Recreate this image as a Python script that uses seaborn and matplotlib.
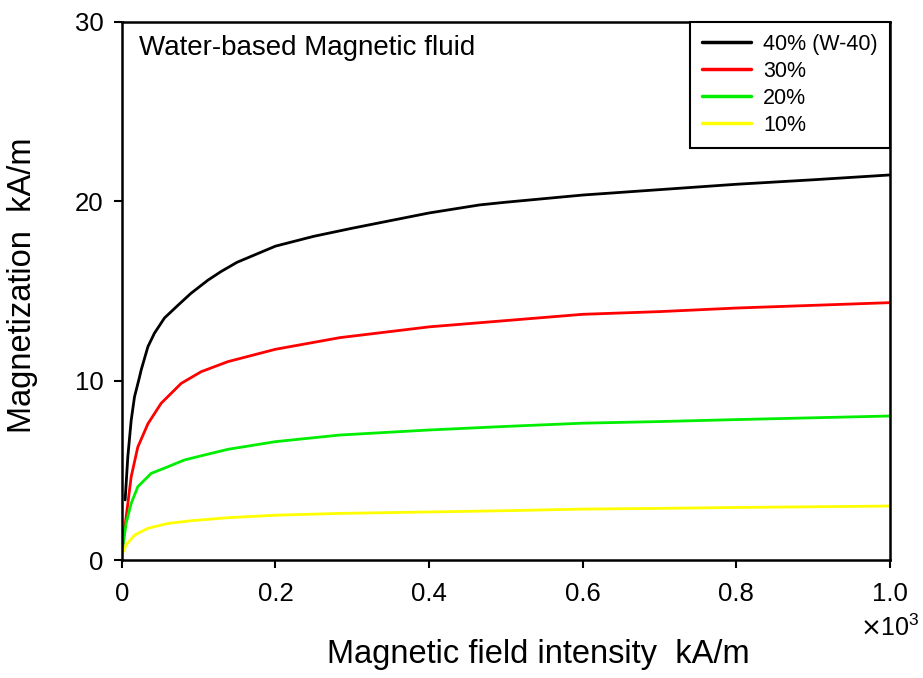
import numpy as np
import pandas as pd
import seaborn as sns
import matplotlib
matplotlib.use("Agg")
import matplotlib.pyplot as plt

# Magnetic field intensity (x10^3 kA/m) and magnetization (kA/m)
x40 = [0.0043, 0.0078, 0.0122, 0.0165, 0.023, 0.0252, 0.034, 0.0425, 0.0556, 0.073, 0.09, 0.112,
       0.129, 0.15, 0.2, 0.25, 0.3, 0.4, 0.466, 0.5, 0.6, 0.7, 0.8, 0.9, 1.0]
m40 = [3.35, 5.76, 7.8, 9.1, 10.2, 10.6, 11.9, 12.65, 13.5, 14.2, 14.87, 15.6,
       16.08, 16.6, 17.5, 18.05, 18.5, 19.35, 19.8, 19.95, 20.35, 20.65, 20.95, 21.2, 21.47]

x30 = [0.0, 0.0056, 0.0122, 0.0208, 0.034, 0.0512, 0.0773, 0.1033, 0.138, 0.2, 0.284, 0.4,
       0.5, 0.6, 0.7, 0.8, 0.9, 1.0]
m30 = [0.38, 2.4, 4.65, 6.3, 7.6, 8.74, 9.85, 10.5, 11.06, 11.75, 12.4, 13.0,
       13.35, 13.7, 13.85, 14.05, 14.2, 14.35]

x20 = [0.0, 0.0056, 0.0122, 0.0208, 0.0382, 0.06, 0.0816, 0.108, 0.138, 0.2, 0.284, 0.4,
       0.5, 0.6, 0.7, 0.8, 0.9, 1.0]
m20 = [0.38, 2.05, 3.16, 4.09, 4.83, 5.2, 5.58, 5.86, 6.17, 6.6, 6.97, 7.25,
       7.45, 7.63, 7.72, 7.83, 7.93, 8.03]

x10 = [0.0, 0.0056, 0.0165, 0.034, 0.06, 0.09, 0.138, 0.2, 0.284, 0.4, 0.5, 0.6, 0.7, 0.8, 0.9, 1.0]
m10 = [0.28, 0.84, 1.39, 1.77, 2.04, 2.19, 2.36, 2.5, 2.6, 2.68, 2.75, 2.84, 2.88, 2.93, 2.97, 3.01]

series_labels = ["40% (W-40)", "30%", "20%", "10%"]
series_colors = ["#000000", "#ff0000", "#00ee00", "#ffff00"]

x_ticks = [0, 0.2, 0.4, 0.6, 0.8, 1.0]
x_ticklabels = ["0", "0.2", "0.4", "0.6", "0.8", "1.0"]
y_ticks = [0, 10, 20, 30]

frames = []
for lab, xs, ms in zip(series_labels, [x40, x30, x20, x10], [m40, m30, m20, m10]):
    frames.append(pd.DataFrame({"H": xs, "M": ms, "series": lab}))
df = pd.concat(frames, ignore_index=True)

sns.set_theme(style="ticks")
plt.rcParams["font.family"] = ["Liberation Sans", "DejaVu Sans"]
plt.rcParams["text.color"] = "black"
plt.rcParams["axes.labelcolor"] = "black"
plt.rcParams["xtick.color"] = "black"
plt.rcParams["ytick.color"] = "black"
plt.rcParams["axes.edgecolor"] = "black"

fig = plt.figure(figsize=(9.23, 6.78), dpi=100)
ax = fig.add_axes([0.132, 0.174, 0.832, 0.7936])

sns.lineplot(data=df, x="H", y="M", hue="series", hue_order=series_labels,
             palette=dict(zip(series_labels, series_colors)), estimator=None,
             sort=False, linewidth=2.0, ax=ax)

ax.set_xlim(0, 1.0)
ax.set_ylim(0, 30)
ax.set_xticks(x_ticks)
ax.set_xticklabels(x_ticklabels)
ax.set_yticks(y_ticks)
ax.tick_params(direction="out", length=6, width=1.5, labelsize=18.5, colors="black")
ax.tick_params(axis="x", pad=10)
ax.tick_params(axis="y", pad=7)
for s in ax.spines.values():
    s.set_visible(True)
    s.set_linewidth(1.8)
    s.set_color("black")

ax.set_xlabel("Magnetic field intensity  kA/m", fontsize=23.5)
ax.set_ylabel("Magnetization  kA/m", fontsize=23.5)
ax.xaxis.set_label_coords(0.542, -0.147)
ax.yaxis.set_label_coords(-0.109, 0.51)

ax.text(1.0, -0.126, r"$\times\mathregular{10^3}$", transform=ax.transAxes,
        fontsize=18, ha="center", va="center")
ax.text(0.023, 0.975, "Water-based Magnetic fluid", transform=ax.transAxes,
        fontsize=20, ha="left", va="top")

leg = ax.legend(loc="upper right", borderaxespad=0, fontsize=15.5, frameon=True,
                fancybox=False, framealpha=1, edgecolor="black", handlelength=2.3,
                handletextpad=0.55, labelspacing=0.28, borderpad=0.55, title=None)
leg.get_frame().set_linewidth(1.5)
for line in leg.get_lines():
    line.set_linewidth(2.5)
fig.savefig("out.png", dpi=100)
